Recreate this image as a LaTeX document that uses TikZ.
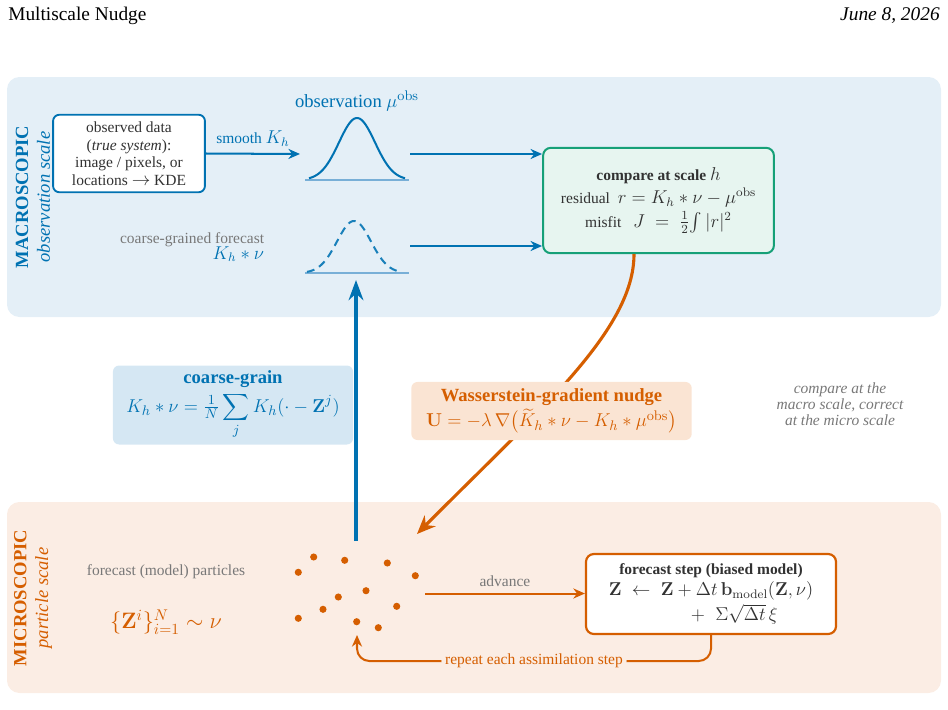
\documentclass[tikz,border=0pt]{standalone}
\usepackage{amsmath}
\usepackage[no-math]{fontspec}
\setmainfont{Liberation Serif}
\DeclareMathSizes{10}{12}{8.5}{6.5}
\DeclareMathSizes{12}{12.8}{9}{7}
\usetikzlibrary{arrows.meta}
\definecolor{cblue}{RGB}{0,114,178}
\definecolor{corange}{RGB}{213,94,0}
\definecolor{cgreen}{RGB}{22,160,120}
\definecolor{macrobg}{RGB}{228,239,247}
\definecolor{microbg}{RGB}{251,237,228}
\definecolor{cgbg}{RGB}{213,231,243}
\definecolor{nudgebg}{RGB}{250,228,211}
\definecolor{cmpbg}{RGB}{231,245,240}
\definecolor{cgray}{RGB}{120,120,120}
\definecolor{cdark}{RGB}{50,50,50}
\definecolor{lightbl}{RGB}{120,175,215}
\tikzset{
  tn/.style={font=\fontsize{10}{12}\selectfont, inner sep=1pt},
  big/.style={font=\fontsize{12}{14.5}\selectfont},
  barrow/.style={cblue, line width=1.3pt, -{Stealth[length=7.5pt,width=6.5pt]}},
  oarrow/.style={corange, line width=1.3pt, -{Stealth[length=7.5pt,width=6.5pt]}},
  gauss/.style={cblue, line width=1.3pt},
  gbase/.style={lightbl, line width=0.8pt},
  dot/.style={circle, fill=corange, inner sep=0pt, minimum size=4.6pt},
  panel/.style={rounded corners=8pt},
}
\begin{document}
\begin{tikzpicture}[x=0.6456pt,y=-0.6456pt]
\useasboundingbox (0,0) rectangle (948,709);
% header
\node[anchor=base west, inner sep=0pt, font=\fontsize{12.5}{14}\selectfont] (htitle) at (8,20) {Multiscale Nudge};
\node[anchor=base east, inner sep=0pt, font=\fontsize{12.5}{14}\selectfont\itshape] (hdate) at (940,20) {June 8, 2026};
% panels
\fill[macrobg, panel] (7,77) rectangle (941,317);
\fill[microbg, panel] (7,502) rectangle (941,693);
% side labels
\node[rotate=90, align=center, cblue, font=\fontsize{12}{14}\selectfont] (maclab) at (33,197) {{\bfseries MACROSCOPIC}\\{\itshape observation scale}};
\node[rotate=90, align=center, corange, font=\fontsize{12}{14}\selectfont] (miclab) at (33,598) {{\bfseries MICROSCOPIC}\\{\itshape particle scale}};
% observed data
\node[tn, draw=cblue, line width=1.2pt, rounded corners=4pt, fill=white, align=center,
      minimum width=98pt, minimum height=50pt, text=cdark, font=\fontsize{10}{11.3}\selectfont] (obs) at (129,153.5)
  {observed data\\(\textit{true system}):\\image / pixels, or\\locations $\to$ KDE};
% compare box
\node[tn, draw=cgreen, fill=cmpbg, line width=1.3pt, rounded corners=5pt, align=center,
      minimum width=149pt, minimum height=68pt, text=cdark] (cmp) at (658.5,200.5)
  {\textbf{compare at scale $h$}\\[2pt]
   residual\enspace $r = K_h*\nu - \mu^{\mathrm{obs}}$\\[2pt]
   misfit\enspace\ $J \;=\; \tfrac12\!\int |r|^2$};
% observation curve
\coordinate (obsin) at (300,154);
\coordinate (obsout) at (410,154);
\draw[gbase] (305,180) -- (409,180);
\draw[gauss] plot[domain=309:405, samples=80, smooth] (\x,{180-62*exp(-((\x-357)^2)/648)});
\node[cblue, big, inner sep=1pt] (obslab) at (357,101) {observation $\mu^{\mathrm{obs}}$};
\draw[barrow] (obs.east) -- (obsin) node[midway, above=3pt, tn, cblue] (smlab) {smooth $K_h$};
\draw[barrow] (obsout) -- (obsout -| cmp.west);
% forecast curve
\coordinate (fcout) at (410,246);
\draw[gbase] (305,273) -- (409,273);
\draw[gauss, cblue!90, dash pattern=on 5pt off 3.5pt] plot[domain=307:401, samples=80, smooth] (\x,{273-52*exp(-((\x-354)^2)/578)});
\node[tn, anchor=base east, text=cgray] (cgf) at (266,243) {coarse-grained forecast};
\node[tn, anchor=base east, text=cblue] (cgfk) at (266,259) {$K_h * \nu$};
\draw[barrow] (fcout) -- (fcout -| cmp.west);
% coarse-grain box and upward arrow
\coordinate (bstart) at (356,541);
\coordinate (btip) at (356,280);
\node[fill=cgbg, rounded corners=4pt, inner xsep=0pt, inner ysep=1.5pt, minimum width=155pt, minimum height=51pt, align=center, big, text=cblue] (cg) at (233,405)
  {\textbf{coarse-grain}\\[2pt] $\displaystyle K_h*\nu = \tfrac{1}{N}\sum_{j} K_h(\cdot - \mathbf{Z}^j)$};
\draw[cblue, line width=2.2pt, -{Stealth[length=13pt,width=9.5pt]}] (bstart) -- (btip);
% nudge
\coordinate (nx) at (634,0);
\coordinate (ntip) at (417,534);
\draw[corange, line width=2pt, -{Stealth[length=12pt,width=10pt]}] (cmp.south -| nx) .. controls (634,330) and (540,410) .. (ntip);
\node[fill=nudgebg, rounded corners=4pt, inner xsep=0pt, inner ysep=1.5pt, minimum width=181pt, minimum height=37.5pt, align=center, big, text=corange] (nudge) at (551.5,411)
  {\textbf{Wasserstein-gradient nudge}\\[2pt] $\mathbf{U} = -\lambda\,\nabla\bigl(\widetilde{K}_h*\nu - K_h*\mu^{\mathrm{obs}}\bigr)$};
% note
\node[align=center, text=cgray, font=\itshape\fontsize{10}{10.5}\selectfont] (note) at (840,404) {compare at the\\macro scale, correct\\at the micro scale};
% micro labels
\node[tn, text=cgray] (fpl) at (166,572) {forecast (model) particles};
\node[text=corange, font=\fontsize{14}{16}\selectfont] (zset) at (166,622) {$\{\mathbf{Z}^i\}_{i=1}^N \sim \nu$};
% particles
\foreach \p [count=\k] in {(313.7,557),(344.7,560.3),(387.3,563),(298.3,572.3),(415.3,575.7),(366,590.7),(338.3,597),(323,609.3),(396.7,606.3),(298.3,618.3),(356.7,621.7),(378.3,627.7)}
  \node[dot] (p\k) at \p {};
% forecast step box
\node[tn, draw=corange, fill=white, line width=1.4pt, rounded corners=5pt, align=center,
      minimum width=161.4pt, minimum height=51.6pt, text=cdark] (fc) at (711,594)
  {\textbf{forecast step (biased model)}\\[1.5pt]
   $\mathbf{Z} \;\leftarrow\; \mathbf{Z} + \Delta t\,\mathbf{b}_{\mathrm{model}}(\mathbf{Z},\nu)$\\[1.5pt]
   \hspace*{30pt}$+\;\;\Sigma\sqrt{\Delta t}\,\xi$};
\coordinate (advs) at (425,593.5);
\draw[oarrow] (advs) -- (advs -| fc.west) node[midway, above=3pt, tn, text=cgray] (advlab) {advance};
% repeat loop
\coordinate (rl) at (357,661);
\coordinate (rtip) at (357,635);
\draw[oarrow, rounded corners=8pt] (fc.south) |- node[pos=0.75, fill=microbg, tn, inner sep=2.5pt, text=corange] (replab) {repeat each assimilation step} (rl) -- (rtip);
\end{tikzpicture}
\end{document}
